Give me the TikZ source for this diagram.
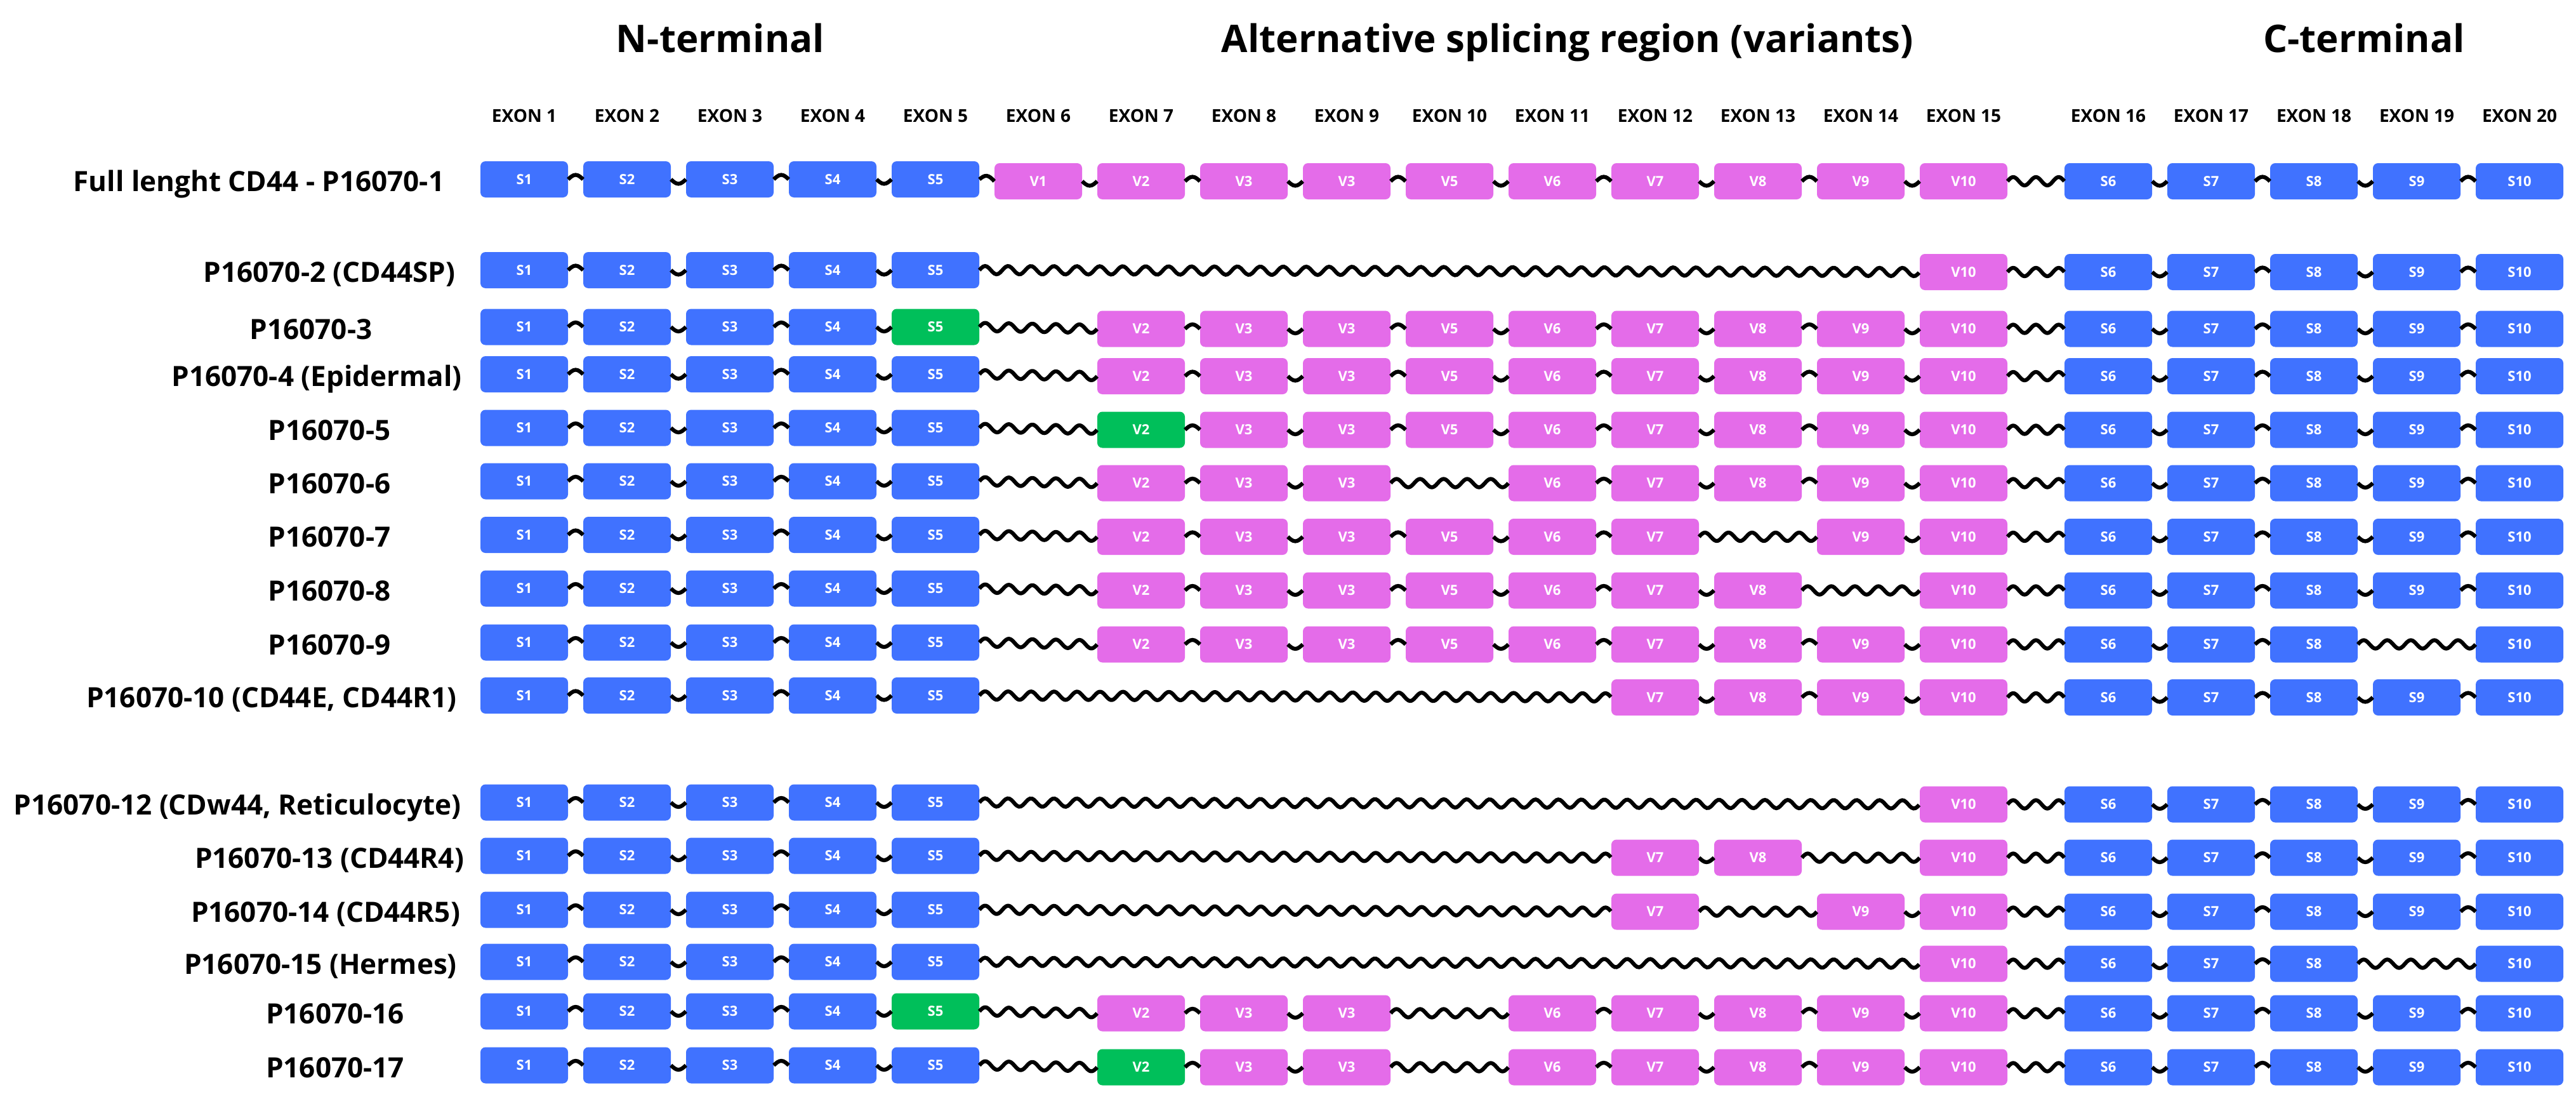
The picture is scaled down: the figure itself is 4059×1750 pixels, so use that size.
\documentclass[tikz,border=0pt]{standalone}
\usepackage{fontspec}
\setmainfont{Open Sans}
\usetikzlibrary{calc}
\definecolor{exblue}{RGB}{64,114,255}
\definecolor{expink}{RGB}{228,108,233}
\definecolor{exgreen}{RGB}{0,191,90}
\tikzset{
  exbox/.style={rounded corners=8pt, minimum width=138pt, minimum height=57pt, inner sep=0pt,
    text=white, font=\fontsize{22}{22}\selectfont\bfseries},
  sbox/.style={exbox, fill=exblue},
  vbox/.style={exbox, fill=expink},
  gbox/.style={exbox, fill=exgreen},
  wvs/.style={line width=6.2pt, to path={
    let \p1=(\tikztostart), \p2=(\tikztotarget) in
    plot[variable=\t, domain=0:1, samples=9, smooth]
      ({\x1+(\x2-\x1)*\t}, {\y1+(\y2-\y1)*\t+#1*7pt*sin(180*\t)})
  }},
  wvl/.style={line width=6.2pt, to path={
    let \p1=(\tikztostart), \p2=(\tikztotarget) in
    plot[variable=\t, domain=0:1, samples=500, smooth]
      ({\x1+(\x2-\x1)*\t}, {\y1+(\y2-\y1)*\t+6.5pt*sin(180*round((\x2-\x1)/18pt)*\t)})
  }},
  rowlabel/.style={anchor=base, font=\fontsize{44}{44}\selectfont\bfseries},
  exonlabel/.style={anchor=base, font=\fontsize{28}{28}\selectfont\bfseries},
  header/.style={anchor=base, font=\fontsize{60}{60}\selectfont\bfseries},
}
\newcommand\colname[1]{\ifcase#1\or S1\or S2\or S3\or S4\or S5\or V1\or V2\or V3\or V3\or V5\or V6\or V7\or V8\or V9\or V10\or S6\or S7\or S8\or S9\or S10\fi}
\newcommand\isorow[4]{%
  \foreach \c [remember=\c as \pc (initially 0)] in {#3}{
    \pgfmathsetmacro\xx{\c<16 ? 826+162*(\c-1) : 3322+162*(\c-16)}
    \pgfmathsetmacro\yy{\c<6 ? #2 : #2+3}
    \ifnum\c=#4 \def\bs{gbox}\else\ifnum\c<6 \def\bs{sbox}\else\ifnum\c<16 \def\bs{vbox}\else\def\bs{sbox}\fi\fi\fi
    \node[\bs] (#1-\c) at (\xx,\yy) {\colname{\c}};
    \ifnum\pc>0
      \pgfmathtruncatemacro\dd{\c-\pc}
      \pgfmathtruncatemacro\sg{mod(\pc,2)==1 ? 1 : -1}
      \ifnum\dd=1
        \ifnum\c=16
          \draw[wvl] (#1-\pc.east) to (#1-\c.west);
        \else
          \draw[wvs=\sg] (#1-\pc.east) to (#1-\c.west);
        \fi
      \else
        \draw[wvl] (#1-\pc.east) to (#1-\c.west);
      \fi
    \fi
  }
}
\begin{document}
\begin{tikzpicture}[x=1pt,y=-1pt]
\fill[white] (0,0) rectangle (4059,1750);
\useasboundingbox (0,0) rectangle (4059,1750);
% headers
\node[header] (hN) at (1135,83) {N-terminal};
\node[header] (hA) at (2470,83) {Alternative splicing region (variants)};
\node[header] (hC) at (3725,83) {C-terminal};
% exon labels
\foreach \i in {1,...,20}{
  \pgfmathsetmacro\xx{\i<16 ? 826+162*(\i-1) : 3322+162*(\i-16)}
  \node[exonlabel] (ex\i) at (\xx,193) {EXON \i};
}
% row labels
\node[rowlabel] (l1)  at (408,301.5)  {Full lenght CD44 - P16070-1};
\node[rowlabel] (l2)  at (519,444.5)  {P16070-2 (CD44SP)};
\node[rowlabel] (l3)  at (490,534)    {P16070-3};
\node[rowlabel] (l4)  at (499,608.5)  {P16070-4 (Epidermal)};
\node[rowlabel] (l5)  at (519,693)    {P16070-5};
\node[rowlabel] (l6)  at (519,777)    {P16070-6};
\node[rowlabel] (l7)  at (519,861.5)  {P16070-7};
\node[rowlabel] (l8)  at (519,946)    {P16070-8};
\node[rowlabel] (l9)  at (519,1031)   {P16070-9};
\node[rowlabel] (l10) at (428,1114.5) {P16070-10 (CD44E, CD44R1)};
\node[rowlabel] (l12) at (374,1283)   {P16070-12 (CDw44, Reticulocyte)};
\node[rowlabel] (l13) at (519,1367)   {P16070-13 (CD44R4)};
\node[rowlabel] (l14) at (513,1452)   {P16070-14 (CD44R5)};
\node[rowlabel] (l15) at (505,1534)   {P16070-15 (Hermes)};
\node[rowlabel] (l16) at (528,1612)   {P16070-16};
\node[rowlabel] (l17) at (528,1697)   {P16070-17};
% rows
\isorow{r1}{282.5}{1,2,3,4,5,6,7,8,9,10,11,12,13,14,15,16,17,18,19,20}{0}
\isorow{r2}{425.5}{1,2,3,4,5,15,16,17,18,19,20}{0}
\isorow{r3}{515}{1,2,3,4,5,7,8,9,10,11,12,13,14,15,16,17,18,19,20}{5}
\isorow{r4}{589.5}{1,2,3,4,5,7,8,9,10,11,12,13,14,15,16,17,18,19,20}{0}
\isorow{r5}{674}{1,2,3,4,5,7,8,9,10,11,12,13,14,15,16,17,18,19,20}{7}
\isorow{r6}{758}{1,2,3,4,5,7,8,9,11,12,13,14,15,16,17,18,19,20}{0}
\isorow{r7}{842.5}{1,2,3,4,5,7,8,9,10,11,12,14,15,16,17,18,19,20}{0}
\isorow{r8}{927}{1,2,3,4,5,7,8,9,10,11,12,13,15,16,17,18,19,20}{0}
\isorow{r9}{1012}{1,2,3,4,5,7,8,9,10,11,12,13,14,15,16,17,18,20}{0}
\isorow{r10}{1095.5}{1,2,3,4,5,12,13,14,15,16,17,18,19,20}{0}
\isorow{r12}{1264}{1,2,3,4,5,15,16,17,18,19,20}{0}
\isorow{r13}{1348}{1,2,3,4,5,12,13,15,16,17,18,19,20}{0}
\isorow{r14}{1433}{1,2,3,4,5,12,14,15,16,17,18,19,20}{0}
\isorow{r15}{1515}{1,2,3,4,5,15,16,17,18,20}{0}
\isorow{r16}{1593}{1,2,3,4,5,7,8,9,11,12,13,14,15,16,17,18,19,20}{5}
\isorow{r17}{1678}{1,2,3,4,5,7,8,9,11,12,13,14,15,16,17,18,19,20}{7}
\end{tikzpicture}
\end{document}
